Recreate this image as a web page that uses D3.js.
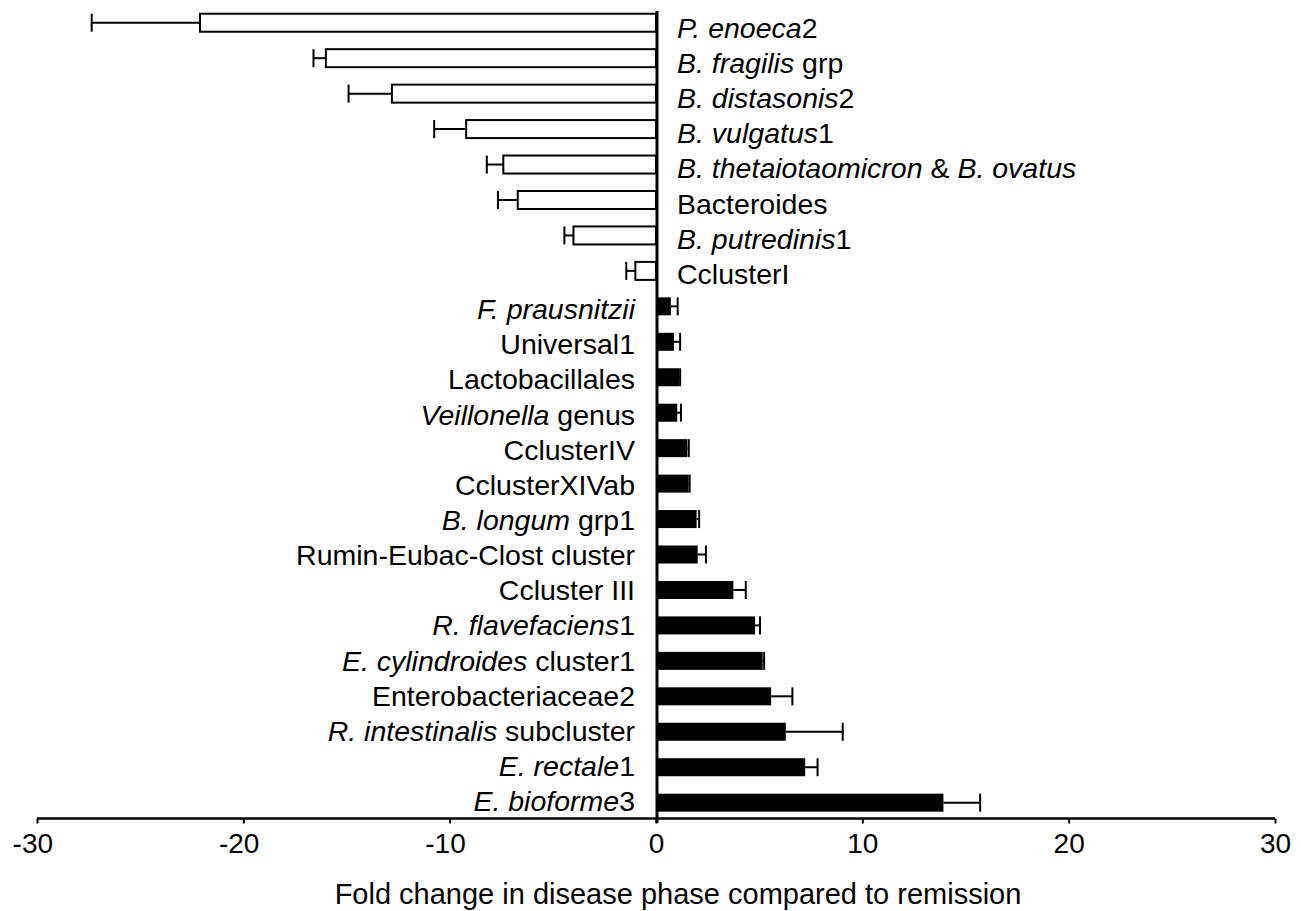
<!DOCTYPE html>
<html>
<head>
<meta charset="utf-8">
<script src="https://cdn.jsdelivr.net/npm/d3@7"></script>
<style>
  html, body { margin: 0; padding: 0; background: #fff; }
  svg { display: block; }
  text { font-family: "Liberation Sans", Arial, Helvetica, sans-serif; fill: #000; }
</style>
</head>
<body>
<svg id="chart" width="1301" height="911"></svg>
<script>
// Taxon groups, top to bottom
const categories = [
  "P. enoeca2", "B. fragilis grp", "B. distasonis2", "B. vulgatus1",
  "B. thetaiotaomicron & B. ovatus", "Bacteroides", "B. putredinis1", "CclusterI",
  "F. prausnitzii", "Universal1", "Lactobacillales", "Veillonella genus",
  "CclusterIV", "CclusterXIVab", "B. longum grp1", "Rumin-Eubac-Clost cluster",
  "Ccluster III", "R. flavefaciens1", "E. cylindroides cluster1", "Enterobacteriaceae2",
  "R. intestinalis subcluster", "E. rectale1", "E. bioforme3"
];

// Label text split into [text, italic] runs
const labelParts = [
  [["P. enoeca", true], ["2", false]],
  [["B. fragilis", true], [" grp", false]],
  [["B. distasonis", true], ["2", false]],
  [["B. vulgatus", true], ["1", false]],
  [["B. thetaiotaomicron", true], [" & ", false], ["B. ovatus", true]],
  [["Bacteroides", false]],
  [["B. putredinis", true], ["1", false]],
  [["CclusterI", false]],
  [["F. prausnitzii", true]],
  [["Universal1", false]],
  [["Lactobacillales", false]],
  [["Veillonella", true], [" genus", false]],
  [["CclusterIV", false]],
  [["CclusterXIVab", false]],
  [["B. longum", true], [" grp1", false]],
  [["Rumin-Eubac-Clost cluster", false]],
  [["Ccluster III", false]],
  [["R. flavefaciens", true], ["1", false]],
  [["E. cylindroides", true], [" cluster1", false]],
  [["Enterobacteriaceae2", false]],
  [["R. intestinalis", true], [" subcluster", false]],
  [["E. rectale", true], ["1", false]],
  [["E. bioforme", true], ["3", false]]
];

// Fold change (disease vs remission) and error
const foldChange = [
  -22.1, -16.0, -12.8, -9.2, -7.4, -6.7, -4.0, -1.0,
  0.72, 0.87, 1.12, 1.03, 1.52, 1.58, 1.97, 2.02,
  3.75, 4.8, 5.17, 5.58, 6.29, 7.23, 13.93
];
const foldError = [
  5.25, 0.6, 2.1, 1.55, 0.8, 0.96, 0.44, 0.44,
  0.33, 0.3, 0.05, 0.18, 0.07, 0.05, 0.12, 0.4,
  0.6, 0.24, 0.07, 1.03, 2.76, 0.6, 1.78
];

const xTicks = [-30, -20, -10, 0, 10, 20, 30];
const xTitle = "Fold change in disease phase compared to remission";

const data = categories.map((c, i) => ({
  name: c, value: foldChange[i], err: foldError[i], parts: labelParts[i]
}));

const svg = d3.select("#chart");

const x = d3.scaleLinear().domain([-30, 30]).range([37, 1275]);
const y = d3.scalePoint().domain(categories).range([5, 820.4]).padding(0.5);
const yLabel = d3.scalePoint().domain(categories).range([10.1, 818.6]).padding(0.5);
const barH = 18;
const axisY = 818.5;
const labelSize = 28.5;

// bars
svg.append("g").selectAll("rect")
  .data(data).join("rect")
  .attr("x", d => x(Math.min(0, d.value)))
  .attr("y", d => y(d.name) - barH / 2)
  .attr("width", d => Math.abs(x(d.value) - x(0)))
  .attr("height", barH)
  .attr("fill", d => d.value < 0 ? "#fff" : "#000")
  .attr("stroke", "#000")
  .attr("stroke-width", d => d.value < 0 ? 2 : 0);

// error bars (one-sided, away from zero)
const eb = svg.append("g").attr("stroke", "#000").attr("stroke-width", 2).attr("fill", "none");
eb.selectAll("line.whisker")
  .data(data).join("line").attr("class", "whisker")
  .attr("x1", d => x(d.value))
  .attr("x2", d => x(d.value + Math.sign(d.value) * d.err))
  .attr("y1", d => y(d.name)).attr("y2", d => y(d.name));
eb.selectAll("line.cap")
  .data(data).join("line").attr("class", "cap")
  .attr("x1", d => x(d.value + Math.sign(d.value) * d.err))
  .attr("x2", d => x(d.value + Math.sign(d.value) * d.err))
  .attr("y1", d => y(d.name) - barH / 2).attr("y2", d => y(d.name) + barH / 2);

// x axis
const xAxis = d3.axisBottom(x).tickValues(xTicks).tickSize(5).tickPadding(10)
  .tickFormat(d => String(d));
const gx = svg.append("g").attr("transform", `translate(0,${axisY})`).call(xAxis);
gx.select(".domain").attr("stroke-width", 2.3).attr("d", `M${x(-30)},0H${x(30)}`);
gx.selectAll(".tick line").attr("stroke-width", 2);
gx.selectAll(".tick text")
  .attr("font-size", 28)
  .attr("font-family", "'Liberation Sans', Arial, Helvetica, sans-serif")
  .attr("dx", d => d < 0 ? "-0.167em" : 0);

// zero line
svg.append("line")
  .attr("x1", x(0) + 1).attr("x2", x(0) + 1)
  .attr("y1", 11).attr("y2", 823)
  .attr("stroke", "#000").attr("stroke-width", 3);

// category labels
const labels = svg.append("g").selectAll("text")
  .data(data).join("text")
  .attr("font-size", labelSize)
  .attr("x", d => d.value < 0 ? x(0) + 21 : x(0) - 21)
  .attr("y", d => yLabel(d.name) + 0.358 * labelSize)
  .attr("text-anchor", d => d.value < 0 ? "start" : "end")
  .style("white-space", "pre");
labels.selectAll("tspan")
  .data(d => d.parts).join("tspan")
  .attr("font-style", p => p[1] ? "italic" : "normal")
  .text(p => p[0]);

// axis title
svg.append("text")
  .attr("x", 678)
  .attr("y", 904)
  .attr("text-anchor", "middle")
  .attr("font-size", 29)
  .text(xTitle);
</script>
</body>
</html>
